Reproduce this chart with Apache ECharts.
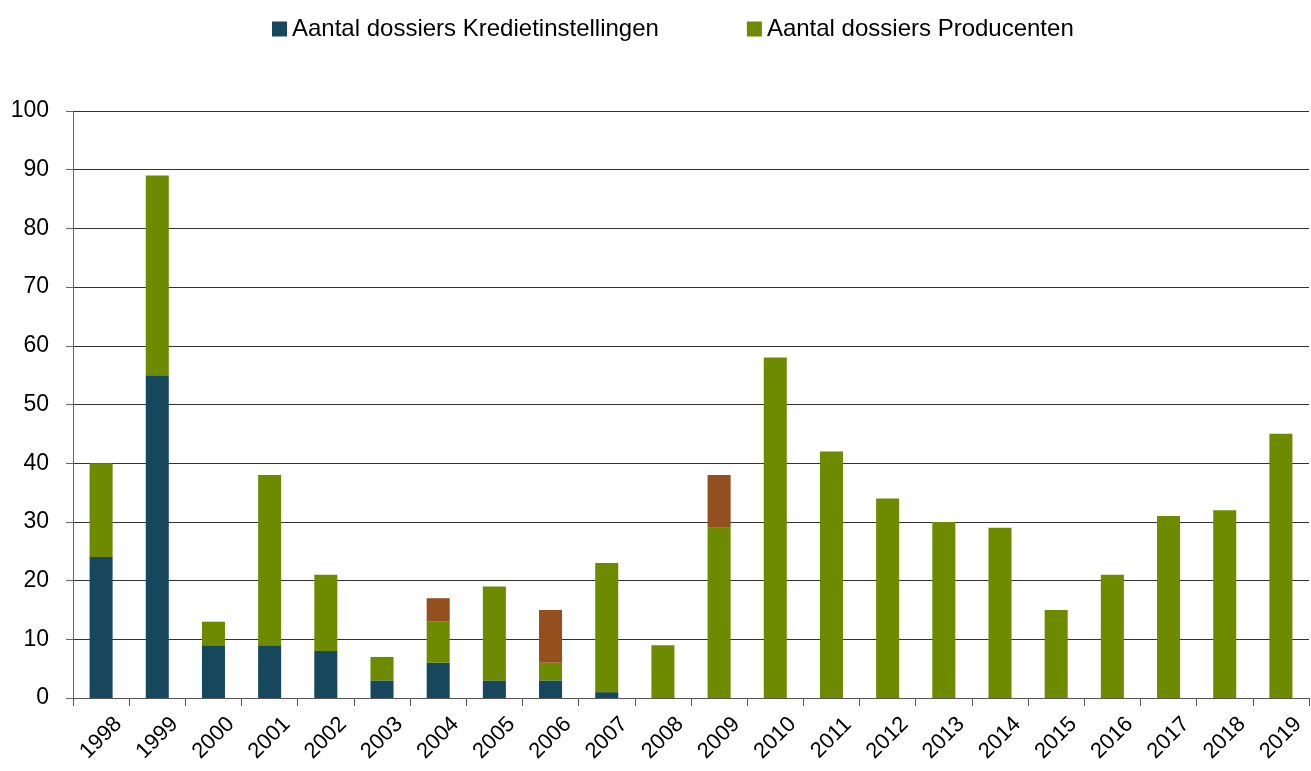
<!DOCTYPE html>
<html>
<head>
<meta charset="utf-8">
<script src="https://cdn.jsdelivr.net/npm/echarts@6/dist/echarts.min.js"></script>
<style>
  html, body { margin: 0; padding: 0; background: #fff; }
  #chart { width: 1311px; height: 771px; }
</style>
</head>
<body>
<div id="chart"></div>
<script>
// jaren
var years = ["1998", "1999", "2000", "2001", "2002", "2003", "2004", "2005", "2006", "2007", "2008",
  "2009", "2010", "2011", "2012", "2013", "2014", "2015", "2016", "2017", "2018", "2019"];
// Aantal dossiers Kredietinstellingen
var krediet = [24, 55, 9, 9, 8, 3, 6, 3, 3, 1, 0, 0, 0, 0, 0, 0, 0, 0, 0, 0, 0, 0];
// Aantal dossiers Producenten
var producenten = [16, 34, 4, 29, 13, 4, 7, 16, 3, 22, 9, 29, 58, 42, 34, 30, 29, 15, 21, 31, 32, 45];
// overige (niet in legende)
var overig = [0, 0, 0, 0, 0, 0, 4, 0, 9, 0, 0, 9, 0, 0, 0, 0, 0, 0, 0, 0, 0, 0];

var chart = echarts.init(document.getElementById("chart"));
var font = "'Liberation Sans', sans-serif";

var option = {
  animation: false,
  textStyle: { fontFamily: font },
  legend: {
    data: ["Aantal dossiers Kredietinstellingen", "Aantal dossiers Producenten"],
    top: 12,
    left: 267,
    itemGap: 88,
    itemWidth: 15,
    itemHeight: 15,
    icon: "rect",
    textStyle: { fontSize: 24, color: "#000", fontFamily: font }
  },
  grid: { left: 73, right: 2, top: 111, bottom: 73 },
  xAxis: {
    type: "category",
    data: years,
    axisLine: { lineStyle: { color: "#555", width: 1 } },
    axisTick: { show: true, length: 8, lineStyle: { color: "#555" } },
    axisLabel: {
      rotate: 45, fontSize: 22, color: "#000", margin: 40,
      align: "center", verticalAlign: "middle", fontFamily: font
    }
  },
  yAxis: {
    type: "value",
    min: 0,
    max: 100,
    interval: 10,
    axisLine: { show: true, lineStyle: { color: "#666" } },
    axisTick: { show: true, length: 7, lineStyle: { color: "#666" } },
    axisLabel: { fontSize: 23, color: "#000", margin: 24, fontFamily: font },
    splitLine: { lineStyle: { color: "#333", width: 1 } }
  },
  series: [
    {
      name: "Aantal dossiers Kredietinstellingen",
      type: "bar",
      stack: "totaal",
      barWidth: "41%",
      itemStyle: { color: "#17475c" },
      data: krediet
    },
    {
      name: "Aantal dossiers Producenten",
      type: "bar",
      stack: "totaal",
      itemStyle: { color: "#6e8b00" },
      data: producenten
    },
    {
      name: "Overig",
      type: "bar",
      stack: "totaal",
      itemStyle: { color: "#934f1d" },
      data: overig
    }
  ]
};

chart.setOption(option);
</script>
</body>
</html>
